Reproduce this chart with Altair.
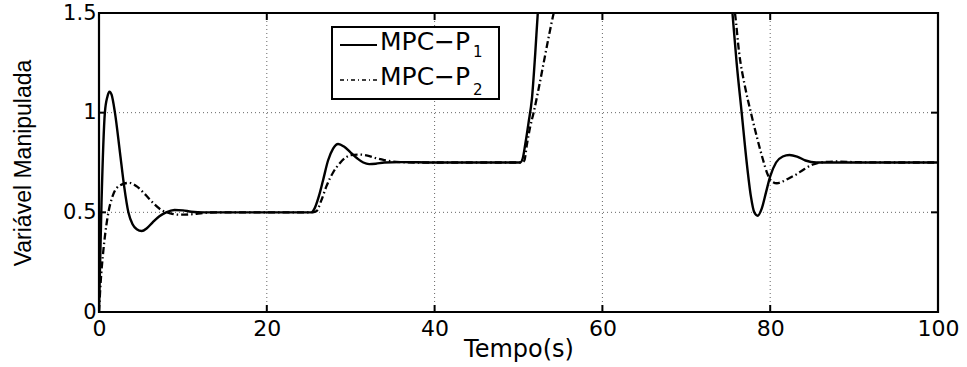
import altair as alt
import pandas as pd

# ---- data ----
t_p1 = [0, 0.3, 0.7, 1.0, 1.25, 1.5, 1.9, 2.5, 3.0, 3.5, 4.0, 4.5, 5.1, 5.7, 6.4, 7.2, 8.0, 9.0, 10.0, 11.0, 12.5, 15, 20,
        25.3, 25.7, 26.2, 26.7, 27.3, 27.9, 28.5, 29.2, 30.0, 30.8, 31.5, 32.2, 33.0, 34.0, 36, 40, 45,
        50.2, 50.5, 50.8, 51.2, 51.6, 52.0, 52.3, 52.8, 54, 56, 60, 65, 70, 74,
        75.0, 75.5, 76.0, 76.6, 77.2, 77.7, 78.1, 78.5, 79.0, 79.5, 80.0, 80.7, 81.5, 82.3, 83.2, 84.2, 85.5, 88, 92, 100]
v_p1 = [0, 0.55, 1.0, 1.08, 1.105, 1.09, 1.0, 0.8, 0.63, 0.5, 0.44, 0.415, 0.406, 0.42, 0.45, 0.48, 0.5, 0.512, 0.51, 0.503, 0.5, 0.5, 0.5,
        0.5, 0.52, 0.58, 0.66, 0.76, 0.82, 0.843, 0.83, 0.8, 0.77, 0.75, 0.742, 0.744, 0.75, 0.752, 0.75, 0.75,
        0.75, 0.77, 0.84, 0.95, 1.07, 1.3, 1.5, 1.72, 1.9, 2.0, 2.0, 2.0, 2.0, 1.9,
        1.75, 1.5, 1.25, 1.0, 0.75, 0.58, 0.5, 0.483, 0.52, 0.6, 0.68, 0.75, 0.78, 0.788, 0.78, 0.76, 0.75, 0.75, 0.75, 0.75]

t_p2 = [0, 0.2, 0.5, 1.0, 1.7, 2.5, 3.6, 4.5, 5.5, 6.5, 7.5, 8.5, 9.5, 11, 12.5, 14, 20,
        25.5, 25.9, 26.5, 27.1, 27.9, 28.7, 29.4, 30.0, 31.0, 32.0, 33.0, 34.0, 35.0, 36.0, 38, 45,
        50.4, 50.7, 51.0, 51.4, 51.8, 52.4, 53.0, 53.6, 54.2, 55, 56, 60, 65, 70,
        75.0, 75.8, 76.3, 77.0, 77.7, 78.4, 79.1, 79.7, 80.2, 80.8, 81.5, 82.3, 83.1, 84.0, 85.1, 86.0, 88.0, 90, 95, 100]
v_p2 = [0, 0.15, 0.3, 0.47, 0.59, 0.635, 0.648, 0.63, 0.59, 0.545, 0.51, 0.495, 0.488, 0.49, 0.497, 0.5, 0.5,
        0.5, 0.505, 0.56, 0.63, 0.7, 0.746, 0.775, 0.787, 0.79, 0.785, 0.772, 0.762, 0.755, 0.752, 0.75, 0.75,
        0.75, 0.76, 0.84, 0.93, 1.0, 1.12, 1.25, 1.38, 1.5, 1.62, 1.75, 1.9, 1.95, 1.9,
        1.65, 1.5, 1.3, 1.13, 1.0, 0.88, 0.77, 0.69, 0.655, 0.646, 0.655, 0.672, 0.69, 0.715, 0.74, 0.75, 0.755, 0.752, 0.75, 0.75]

x_ticks = [0, 20, 40, 60, 80, 100]
y_ticks = [0, 0.5, 1, 1.5]
x_grid = [20, 40, 60, 80]
y_grid = [0.5, 1]
legend_labels = ["MPC\u2212P", "MPC\u2212P"]
legend_subs = ["1", "2"]
x_title = "Tempo(s)"
y_title = "Variável Manipulada"

# ---- layout ----
W, H = 839, 299
TICK = 7

xs = alt.Scale(domain=[0, 100], nice=False, zero=False)
ys = alt.Scale(domain=[0, 1.5], nice=False, zero=False)

p1 = pd.DataFrame({"t": t_p1, "v": v_p1})
p2 = pd.DataFrame({"t": t_p2, "v": v_p2})
xt = pd.DataFrame({"t": x_ticks})
yt = pd.DataFrame({"v": y_ticks})
xg = pd.DataFrame({"t": x_grid})
yg = pd.DataFrame({"v": y_grid})
dummy = pd.DataFrame({"d": [0]})

x_axis = alt.Axis(values=x_ticks, title=x_title, grid=False, ticks=False, tickSize=0, domain=False,
                  labelFont="DejaVu Sans", labelFontSize=22, labelColor="black", labelPadding=6,
                  labelFlush=False, labelOverlap=False,
                  titleFont="DejaVu Sans", titleFontSize=24, titleFontWeight="normal", titleColor="black",
                  titleX=W / 2, titleY=44, titleBaseline="alphabetic", titleAlign="center")
y_axis = alt.Axis(values=y_ticks, format="~g", title=y_title, grid=False, ticks=False, tickSize=0, domain=False,
                  labelFont="DejaVu Sans", labelFontSize=21, labelColor="black", labelPadding=3,
                  labelOverlap=False,
                  titleFont="Liberation Sans", titleFontSize=23, titleFontWeight="normal", titleColor="black",
                  titleX=-69, titleY=H / 2, titleAngle=270, titleBaseline="alphabetic", titleAlign="center")

X = alt.X("t:Q", scale=xs, axis=x_axis)
Y = alt.Y("v:Q", scale=ys, axis=y_axis)

grid_x = alt.Chart(xg).mark_rule(color="#666666", strokeWidth=1, strokeDash=[1, 3]).encode(
    x=X, y=alt.value(0), y2=alt.value(H))
grid_y = alt.Chart(yg).mark_rule(color="#666666", strokeWidth=1, strokeDash=[1, 3]).encode(
    y=Y, x=alt.value(0), x2=alt.value(W))

line1 = alt.Chart(p1).mark_line(color="black", strokeWidth=2.4, clip=True, interpolate="monotone").encode(
    x=X, y=Y)
line2 = alt.Chart(p2).mark_line(color="black", strokeWidth=2.3, strokeDash=[7, 3, 1.5, 3], clip=True,
                                interpolate="monotone").encode(x=X, y=Y)

tick_b = alt.Chart(xt).mark_rule(color="black", strokeWidth=2).encode(
    x=X, y=alt.value(H), y2=alt.value(H - TICK))
tick_t = alt.Chart(xt).mark_rule(color="black", strokeWidth=2).encode(
    x=X, y=alt.value(0), y2=alt.value(TICK))
tick_l = alt.Chart(yt).mark_rule(color="black", strokeWidth=2).encode(
    y=Y, x=alt.value(0), x2=alt.value(TICK))
tick_r = alt.Chart(yt).mark_rule(color="black", strokeWidth=2).encode(
    y=Y, x=alt.value(W), x2=alt.value(W - TICK))

frame = alt.Chart(dummy).mark_rect(fillOpacity=0, stroke="black", strokeWidth=2.2).encode(
    x=alt.value(0), x2=alt.value(W), y=alt.value(0), y2=alt.value(H))

# legend
leg_box = alt.Chart(dummy).mark_rect(fill="white", stroke="black", strokeWidth=2).encode(
    x=alt.value(233), x2=alt.value(400), y=alt.value(14), y2=alt.value(86))
leg_l1 = alt.Chart(dummy).mark_rule(color="black", strokeWidth=1.8).encode(
    x=alt.value(241), x2=alt.value(278), y=alt.value(32))
leg_l2 = alt.Chart(dummy).mark_rule(color="black", strokeWidth=1.5, strokeDash=[4, 3, 1, 3]).encode(
    x=alt.value(241), x2=alt.value(278), y=alt.value(67))


def leg_text(label, y, size, x):
    return alt.Chart(pd.DataFrame({"label": [label]})).mark_text(
        align="left", baseline="alphabetic", font="DejaVu Sans", fontSize=size, color="black").encode(
        text="label:N", x=alt.value(x), y=alt.value(y))


leg_t1 = leg_text(legend_labels[0], 37, 25, 281)
leg_s1 = leg_text(legend_subs[0], 44, 15, 374)
leg_t2 = leg_text(legend_labels[1], 72, 25, 281)
leg_s2 = leg_text(legend_subs[1], 82, 15, 374)

chart = alt.layer(
    grid_x, grid_y, line1, line2, tick_b, tick_t, tick_l, tick_r, frame,
    leg_box, leg_l1, leg_l2, leg_t1, leg_s1, leg_t2, leg_s2
).properties(
    width=W, height=H,
    padding={"left": 99, "top": 13, "right": 29, "bottom": 55},
    autosize=alt.AutoSizeParams(type="none"),
).configure_view(stroke=None).configure(background="white")

chart.save("out.html", embed_options={"renderer": "svg", "actions": False})
